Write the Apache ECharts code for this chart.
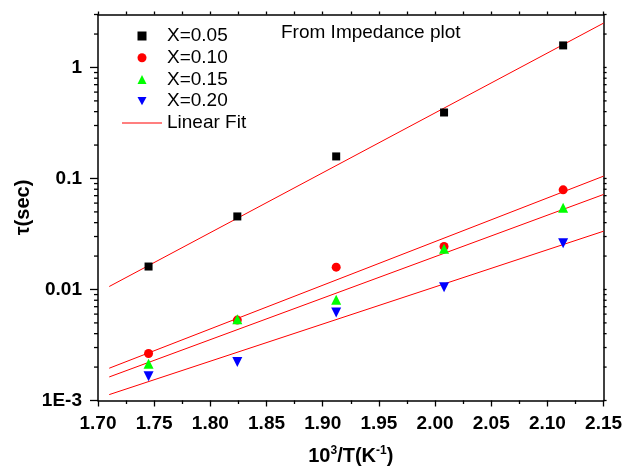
<!DOCTYPE html>
<html>
<head>
<meta charset="utf-8">
<script src="https://cdn.jsdelivr.net/npm/echarts@6/dist/echarts.min.js"></script>
<style>
  html, body { margin: 0; padding: 0; background: #fff; }
  #chart { width: 626px; height: 472px; }
</style>
</head>
<body>
<div id="chart"></div>
<script>
// Inverse temperature 10^3/T (K^-1) for the five measurement temperatures
const invT = [1.745, 1.824, 1.912, 2.008, 2.114];

// Relaxation time tau (s) for each composition
const tauX005 = [0.0161, 0.0455, 0.158, 0.393, 1.58];
const tauX010 = [0.00265, 0.0053, 0.0159, 0.0244, 0.079];
const tauX015 = [0.00214, 0.0054, 0.0081, 0.0233, 0.0545];
const tauX020 = [0.00165, 0.00222, 0.0062, 0.0105, 0.0261];

// Linear (Arrhenius) fits, evaluated at the ends of the fit range
const fitX = [1.71, 2.15];
const fitX005 = [0.01064, 2.51];
const fitX010 = [0.001954, 0.105];
const fitX015 = [0.00163, 0.0718];
const fitX020 = [0.00113, 0.0335];

// Log-axis tick values
const yMajorTicks = [0.001, 0.01, 0.1, 1];
const yMinorTicks = [
  0.002, 0.003, 0.004, 0.005, 0.006, 0.007, 0.008, 0.009,
  0.02, 0.03, 0.04, 0.05, 0.06, 0.07, 0.08, 0.09,
  0.2, 0.3, 0.4, 0.5, 0.6, 0.7, 0.8, 0.9,
  2, 3
];
const yTickLabels = { '0.001': '1E-3', '0.01': '0.01', '0.1': '0.1', '1': '1' };

const xMin = 1.70, xMax = 2.15;
const FONT = "'Liberation Sans', Arial, sans-serif";

const pairs = (xs, ys) => xs.map((x, i) => [x, ys[i]]);

const chart = echarts.init(document.getElementById('chart'), null, { renderer: 'canvas' });

// Y-axis ticks on both frame sides (major/minor on the left, short marks on the right)
function tickItem(params, api) {
  const v = api.value(1);
  const major = api.value(2) === 1;
  const pl = api.coord([xMin, v]);
  const pr = api.coord([xMax, v]);
  const st = { stroke: '#000', lineWidth: 1.3 };
  return {
    type: 'group',
    children: [
      { type: 'line', shape: { x1: pl[0] - (major ? 8 : 4), y1: pl[1], x2: pl[0], y2: pl[1] }, style: st },
      { type: 'line', shape: { x1: pr[0], y1: pr[1], x2: pr[0] + 3, y2: pr[1] }, style: st }
    ]
  };
}

const tickData = yMajorTicks.map(v => [xMin, v, 1]).concat(yMinorTicks.map(v => [xMin, v, 0]));

const fitBase = {
  type: 'line', name: 'Linear Fit', symbol: 'none', showSymbol: false,
  lineStyle: { color: '#ff0000', width: 1 }, itemStyle: { color: '#ff0000' }, z: 3
};

function scatter(name, symbol, size, color, data, rotate) {
  return {
    type: 'scatter', name: name, symbol: symbol, symbolSize: size,
    symbolRotate: rotate || 0, z: 5,
    itemStyle: { color: color, opacity: 1 },
    data: data
  };
}

const legendText = { fontFamily: FONT, fontSize: 19, color: '#000', lineHeight: 20 };

chart.setOption({
  animation: false,
  backgroundColor: '#fff',
  textStyle: { fontFamily: FONT },
  grid: { left: 98, right: 22.4, top: 14.5, bottom: 71.5, containLabel: false },
  title: {
    text: 'From Impedance plot',
    left: 281, top: 23, padding: 0,
    textStyle: { fontFamily: FONT, fontSize: 19, fontWeight: 'normal', color: '#000' }
  },
  legend: [
    {
      orient: 'vertical', padding: 0,
      left: 137.5, top: 26,
      itemWidth: 9, itemHeight: 9, itemGap: 1.7,
      textStyle: Object.assign({ padding: [0, 0, 0, 15.5] }, legendText),
      data: [
        { name: 'X=0.05' },
        { name: 'X=0.10' },
        { name: 'X=0.15' },
        { name: 'X=0.20', icon: 'path://M0,0 L10,0 L5,9 Z' }
      ]
    },
    {
      orient: 'vertical', padding: 0,
      left: 122, top: 113,
      itemWidth: 40, itemHeight: 1.2,
      textStyle: legendText,
      data: [{ name: 'Linear Fit', icon: 'rect' }]
    }
  ],
  xAxis: [
    {
      type: 'value', position: 'bottom', min: xMin, max: xMax, interval: 0.05,
      axisLine: { lineStyle: { color: '#000', width: 1.5 } },
      axisTick: { inside: false, length: 6, lineStyle: { color: '#000', width: 1.3 } },
      minorTick: { show: true, splitNumber: 2, length: 3.5, lineStyle: { color: '#000', width: 1.3 } },
      splitLine: { show: false },
      axisLabel: {
        margin: 14, color: '#000', fontFamily: FONT, fontSize: 19, fontWeight: 'bold',
        formatter: v => v.toFixed(2)
      },
      name: '{b|10}{s|3}{b|/T(K}{s|-1}{b|)}',
      nameLocation: 'middle', nameGap: 44,
      nameTextStyle: {
        rich: {
          b: { fontFamily: FONT, fontSize: 20, fontWeight: 'bold', color: '#000', lineHeight: 24 },
          s: { fontFamily: FONT, fontSize: 12, fontWeight: 'bold', color: '#000', lineHeight: 24, verticalAlign: 'top' }
        }
      }
    },
    {
      type: 'value', position: 'top', min: xMin, max: xMax, interval: 0.05,
      axisLine: { lineStyle: { color: '#000', width: 1.5 } },
      axisTick: { inside: false, length: 3, lineStyle: { color: '#000', width: 1.3 } },
      minorTick: { show: true, splitNumber: 2, length: 3, lineStyle: { color: '#000', width: 1.3 } },
      splitLine: { show: false },
      axisLabel: { show: false }
    }
  ],
  yAxis: [
    {
      type: 'log', logBase: 10, min: 0.001, max: 3, position: 'left',
      axisLine: { show: true, lineStyle: { color: '#000', width: 1.5 } },
      axisTick: { show: false },
      splitLine: { show: false },
      axisLabel: {
        margin: 16, color: '#000', fontFamily: FONT, fontSize: 19, fontWeight: 'bold',
        showMaxLabel: false,
        formatter: v => {
          const k = String(+v.toPrecision(6));
          return yTickLabels[k] !== undefined ? yTickLabels[k] : '';
        }
      },
      name: 'τ(sec)', nameLocation: 'middle', nameGap: 65, nameRotate: 90,
      nameMoveOverlap: false,
      nameTextStyle: { fontFamily: FONT, fontSize: 20, fontWeight: 'bold', color: '#000' }
    },
    {
      type: 'log', logBase: 10, min: 0.001, max: 3, position: 'right',
      axisLine: { show: true, lineStyle: { color: '#000', width: 1.5 } },
      axisTick: { show: false }, axisLabel: { show: false }, splitLine: { show: false }
    }
  ],
  series: [
    Object.assign({}, fitBase, { data: pairs(fitX, fitX005) }),
    Object.assign({}, fitBase, { data: pairs(fitX, fitX010) }),
    Object.assign({}, fitBase, { data: pairs(fitX, fitX015) }),
    Object.assign({}, fitBase, { data: pairs(fitX, fitX020) }),
    scatter('X=0.05', 'rect', 8, '#000000', pairs(invT, tauX005)),
    scatter('X=0.10', 'circle', 9, '#ff0000', pairs(invT, tauX010)),
    scatter('X=0.15', 'triangle', 10, '#00ff00', pairs(invT, tauX015)),
    scatter('X=0.20', 'triangle', 10, '#0000ff', pairs(invT, tauX020), 180),
    {
      type: 'custom', name: 'yTicks', silent: true, clip: false,
      renderItem: tickItem, encode: { x: 0, y: 1 }, data: tickData, z: 2
    }
  ]
});
</script>
</body>
</html>
